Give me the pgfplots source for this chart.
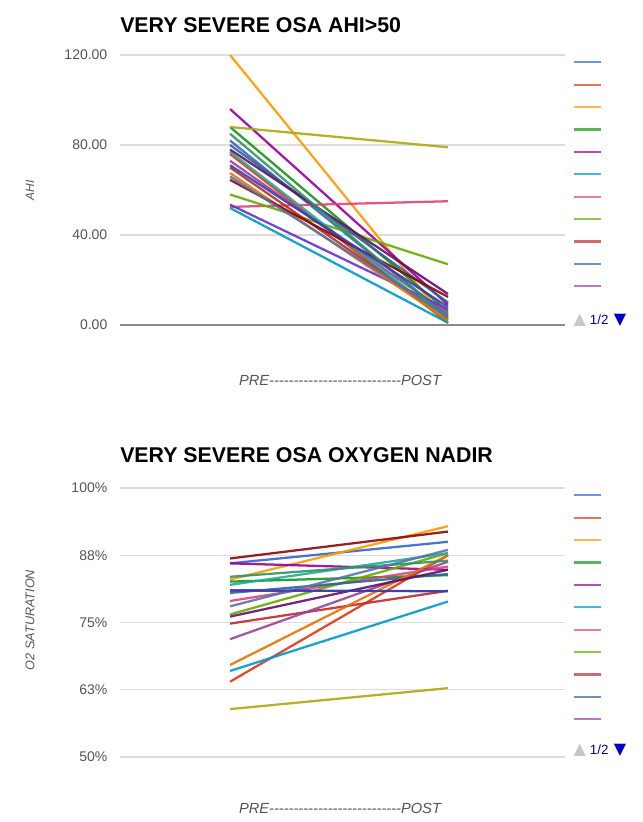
\documentclass[border=0pt]{standalone}
\usepackage{pgfplots}
\pgfplotsset{compat=1.18}
\usepackage{fontspec}
\setmainfont{Liberation Sans}
\newfontfamily\dejavu{DejaVu Sans}
\definecolor{c1}{HTML}{3366CC}
\definecolor{c2}{HTML}{DC3912}
\definecolor{c3}{HTML}{FF9900}
\definecolor{c4}{HTML}{109618}
\definecolor{c5}{HTML}{990099}
\definecolor{c6}{HTML}{0099C6}
\definecolor{c7}{HTML}{DD4477}
\definecolor{c8}{HTML}{66AA00}
\definecolor{c9}{HTML}{B82E2E}
\definecolor{c10}{HTML}{316395}
\definecolor{c11}{HTML}{994499}
\definecolor{c12}{HTML}{22AA99}
\definecolor{c13}{HTML}{AAAA11}
\definecolor{c14}{HTML}{6633CC}
\definecolor{c15}{HTML}{E67300}
\definecolor{c16}{HTML}{8B0707}
\definecolor{c17}{HTML}{651067}
\definecolor{c18}{HTML}{329262}
\definecolor{c19}{HTML}{5574A6}
\definecolor{c20}{HTML}{3B3EAC}
\definecolor{gridc}{HTML}{DDDDDD}
\definecolor{tickc}{HTML}{555555}
\pgfplotsset{
  myaxis/.style={
    scale only axis, width=333.75pt,
    xmin=-0.505, xmax=1.537,
    xtick=\empty,
    axis line style={draw=none},
    major tick length=0pt,
    ymajorgrids, grid style={gridc, line width=1pt},
    yticklabel style={font=\fontsize{10.5}{12}\selectfont, text=tickc, xshift=-6pt},
    /pgf/number format/assume math mode=true,
    clip=false,
    every axis plot/.append style={line width=1.7pt, no markers, opacity=0.9},
    legend style={draw=none, fill=none, inner sep=0pt, row sep=0pt, column sep=0pt,
      at={(axis description cs:1.018,1.0156)}, anchor=north west,
      nodes={inner sep=0pt}},
    legend image code/.code={\path[draw=none, fill=none] (0pt,-8.4pt) rectangle (20pt,8.4pt);
      \draw[##1, line width=1.6pt, opacity=0.7] (0pt,0pt) -- (20pt,0pt);},
  }
}
\newcommand\dashline{{-}{-}{-}{-}{-}{-}{-}{-}{-}{-}{-}{-}{-}{-}{-}{-}{-}{-}{-}{-}{-}{-}{-}{-}{-}{-}{-}}
\newcommand\pager{{\dejavu\fontsize{12}{12}\selectfont\color{black!22}▲}\hspace{3pt}{\fontsize{10}{10}\selectfont\color{blue!60!black}1/2}\hspace{4pt}{\dejavu\fontsize{12}{12}\selectfont\color{blue!80!black}▼}}
\begin{document}
\begin{tikzpicture}
\path[use as bounding box] (0pt,0pt) rectangle (482.25pt,-616.5pt);
% titles
\node[anchor=base west, inner sep=0pt, font=\bfseries\fontsize{16}{18}\selectfont] at (90pt,-24pt) {VERY SEVERE OSA AHI>50};
\node[anchor=base west, inner sep=0pt, font=\bfseries\fontsize{16}{18}\selectfont] at (90pt,-347pt) {VERY SEVERE OSA OXYGEN NADIR};
% top axis
\begin{axis}[myaxis, at={(90pt,-243.75pt)}, anchor=south west, height=202.5pt,
  ymin=0, ymax=120, ytick={40,80,120},
  yticklabels={40.00,80.00,120.00},
  extra y ticks={0}, extra y tick labels={0.00},
  extra y tick style={grid style={black!45, line width=1.2pt}},
]
\addplot[c1] coordinates {(0,82) (1,4)};
\addplot[c2] coordinates {(0,76) (1,1)};
\addplot[c3] coordinates {(0,120) (1,1)};
\addplot[c4] coordinates {(0,88) (1,6)};
\addplot[c5] coordinates {(0,96) (1,9)};
\addplot[c6] coordinates {(0,52) (1,1)};
\addplot[c7] coordinates {(0,52.5) (1,55)};
\addplot[c8] coordinates {(0,58) (1,27)};
\addplot[c9] coordinates {(0,70) (1,3)};
\addplot[c10] coordinates {(0,80) (1,10)};
\addplot[c11] coordinates {(0,73) (1,5)};
\addplot[c12] coordinates {(0,77) (1,2)};
\addplot[c13] coordinates {(0,88) (1,79)};
\addplot[c14] coordinates {(0,53.5) (1,7)};
\addplot[c15] coordinates {(0,67.5) (1,2)};
\addplot[c16] coordinates {(0,64.5) (1,12.5)};
\addplot[c17] coordinates {(0,78) (1,13.8)};
\addplot[c18] coordinates {(0,85) (1,3)};
\addplot[c19] coordinates {(0,66) (1,4)};
\addplot[c20] coordinates {(0,71) (1,8)};
\legend{\mbox{},\mbox{},\mbox{},\mbox{},\mbox{},\mbox{},\mbox{},\mbox{},\mbox{},\mbox{},\mbox{}}
\end{axis}
% bottom axis
\begin{axis}[myaxis, at={(90pt,-567.75pt)}, anchor=south west, height=201.75pt,
  ymin=50, ymax=100, ytick={50,62.5,75,87.5,100},
  yticklabels={50\%,63\%,75\%,88\%,100\%},
]
\addplot[c1] coordinates {(0,86.0) (1,90.0)};
\addplot[c2] coordinates {(0,64.0) (1,87.5)};
\addplot[c3] coordinates {(0,83.0) (1,92.9)};
\addplot[c4] coordinates {(0,82.6) (1,83.8)};
\addplot[c5] coordinates {(0,86.0) (1,84.8)};
\addplot[c6] coordinates {(0,66.0) (1,78.9)};
\addplot[c7] coordinates {(0,79.0) (1,85.4)};
\addplot[c8] coordinates {(0,76.5) (1,87.9)};
\addplot[c9] coordinates {(0,74.8) (1,80.9)};
\addplot[c10] coordinates {(0,80.5) (1,84.0)};
\addplot[c11] coordinates {(0,71.9) (1,86.3)};
\addplot[c12] coordinates {(0,82.0) (1,87.9)};
\addplot[c13] coordinates {(0,58.9) (1,62.8)};
\addplot[c14] coordinates {(0,80.9) (1,80.9)};
\addplot[c15] coordinates {(0,67.1) (1,87.5)};
\addplot[c16] coordinates {(0,86.9) (1,91.9)};
\addplot[c17] coordinates {(0,76.1) (1,84.8)};
\addplot[c18] coordinates {(0,83.5) (1,86.5)};
\addplot[c19] coordinates {(0,78.0) (1,88.5)};
\addplot[c20] coordinates {(0,81.0) (1,80.8)};
\legend{\mbox{},\mbox{},\mbox{},\mbox{},\mbox{},\mbox{},\mbox{},\mbox{},\mbox{},\mbox{},\mbox{}}
\end{axis}
% axis labels
\node[rotate=90, font=\itshape\fontsize{9}{10}\selectfont, text=tickc] at (22.5pt,-142.5pt) {AHI};
\node[rotate=90, font=\itshape\fontsize{9.5}{10}\selectfont, text=tickc] at (22.5pt,-465pt) {O2 SATURATION};
\node[font=\itshape\fontsize{11}{12}\selectfont, text=tickc] at (255pt,-285pt) {PRE\dashline POST};
\node[font=\itshape\fontsize{11}{12}\selectfont, text=tickc] at (255pt,-606pt) {PRE\dashline POST};
% pager
\node[anchor=west, inner sep=0pt] at (430pt,-240pt) {\pager};
\node[anchor=west, inner sep=0pt] at (430pt,-562.5pt) {\pager};
\end{tikzpicture}
\end{document}
